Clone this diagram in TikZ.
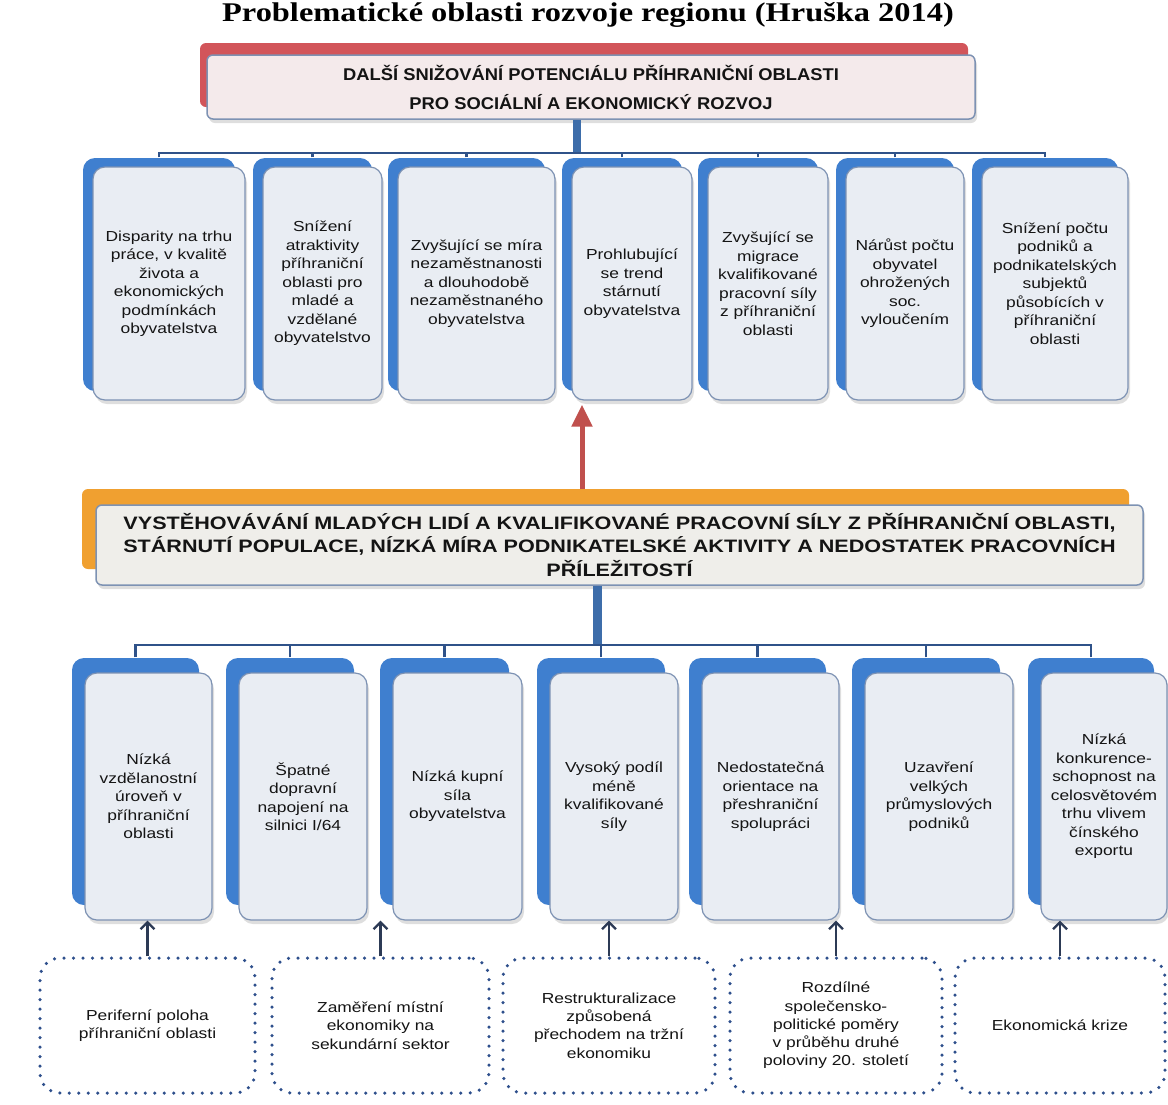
\documentclass[tikz,border=0pt]{standalone}
\usepackage{fontspec}
\setmainfont{Liberation Sans}
\newfontfamily\widesans[FakeStretch=1.2]{Liberation Sans}
\newfontfamily\headsans[FakeStretch=1.08]{Liberation Sans}
\newfontfamily\widetitle[FakeStretch=1.2]{Liberation Serif}
\usetikzlibrary{arrows.meta,shadows,calc}

\definecolor{boxblue}{HTML}{3F7FCF}
\definecolor{cardfill}{HTML}{E9EDF3}
\definecolor{rimline}{HTML}{7D92B3}
\definecolor{linkblue}{HTML}{2F5289}
\definecolor{stemblue}{HTML}{3D6DAA}
\definecolor{headred}{HTML}{D2555A}
\definecolor{headorange}{HTML}{F0A030}
\definecolor{pinkfill}{HTML}{F4EAEB}
\definecolor{greyfill}{HTML}{EFEEEA}
\definecolor{dotblue}{HTML}{2E4F8C}
\definecolor{arrowdark}{HTML}{2C3A55}
\definecolor{arrowred}{HTML}{C0504D}

\tikzset{
  softshadow/.style={general shadow={shadow xshift=2pt, shadow yshift=-4pt, fill=black, opacity=0.13}},
  card/.style={draw=rimline, line width=1.2pt, fill=cardfill, rounded corners=12pt,
    align=center, inner sep=2pt, text=black!92, softshadow,
    font=\widesans\fontsize{14.5}{18.5}\selectfont},
  topcard/.style={card, minimum height=233pt,
    copy shadow={shadow xshift=-10pt, shadow yshift=9pt, fill=boxblue, draw=none}},
  lowcard/.style={card, minimum height=247pt,
    copy shadow={shadow xshift=-13pt, shadow yshift=15pt, fill=boxblue, draw=none}},
  headbox/.style={draw=rimline, line width=1.5pt, rounded corners=6pt, align=center,
    text=black!92, softshadow},
  cause/.style={draw=dotblue, line width=3.5pt, dash pattern=on 0pt off 9.5pt, line cap=round,
    rounded corners=20pt, minimum height=135pt, align=center, text=black!92,
    font=\widesans\fontsize{14.5}{18.3}\selectfont},
  link/.style={draw=linkblue, line width=2.5pt},
  stem/.style={draw=stemblue, line width=8pt},
  uparrow/.style={draw=arrowdark, line width=2.3pt, -{Straight Barb[length=7pt,width=14pt]}},
  bigarrow/.style={draw=arrowred, line width=5pt, -{Triangle[length=22pt,width=20pt]}, shorten >=4pt}
}

\begin{document}
\begin{tikzpicture}[x=1pt,y=-1pt]
\useasboundingbox[fill=white] (0,0) rectangle (1168,1104);

\node[font=\widetitle\bfseries\fontsize{27}{30}\selectfont, anchor=base] (title) at (588,21)
  {Problematické oblasti rozvoje regionu (Hruška 2014)};

\node[headbox, fill=pinkfill, minimum width=768pt, minimum height=64pt,
  copy shadow={shadow xshift=-7pt, shadow yshift=12pt, fill=headred, draw=none},
  font=\headsans\bfseries\fontsize{17}{29}\selectfont] (h1) at (591,87)
  {DALŠÍ SNIŽOVÁNÍ POTENCIÁLU PŘÍHRANIČNÍ OBLASTI\\PRO SOCIÁLNÍ A EKONOMICKÝ ROZVOJ};

\foreach \n/\cx/\w/\txt in {
  1/169/152/{Disparity na trhu\\práce, v kvalitě\\života a\\ekonomických\\podmínkách\\obyvatelstva},
  2/322.5/119/{Snížení\\atraktivity\\příhraniční\\oblasti pro\\mladé a\\vzdělané\\obyvatelstvo},
  3/476.5/157/{Zvyšující se míra\\nezaměstnanosti\\a dlouhodobě\\nezaměstnaného\\obyvatelstva},
  4/632/120/{Prohlubující\\se trend\\stárnutí\\obyvatelstva},
  5/768/120/{Zvyšující se\\migrace\\kvalifikované\\pracovní síly\\z příhraniční\\oblasti},
  6/905/118/{Nárůst počtu\\obyvatel\\ohrožených\\soc.\\vyloučením},
  7/1055/146/{Snížení počtu\\podniků a\\podnikatelských\\subjektů\\působících v\\příhraniční\\oblasti}}
  \node[topcard, minimum width=\w pt] (t\n) at (\cx,283.5) {\txt};

\coordinate (bar1) at (577,153);
\draw[stem] (h1.south -| bar1) -- (bar1);
\foreach \i in {1,...,7}
  \draw[link] ($(t\i.north)+(-10,-9)$) |- (bar1);

\node[headbox, fill=greyfill, minimum width=1047pt, minimum height=80pt,
  copy shadow={shadow xshift=-14pt, shadow yshift=16pt, fill=headorange, draw=none},
  font=\widesans\bfseries\fontsize{18}{23.5}\selectfont] (h2) at (619.5,545)
  {VYSTĚHOVÁVÁNÍ MLADÝCH LIDÍ A KVALIFIKOVANÉ PRACOVNÍ SÍLY Z PŘÍHRANIČNÍ OBLASTI,\\
   STÁRNUTÍ POPULACE, NÍZKÁ MÍRA PODNIKATELSKÉ AKTIVITY A NEDOSTATEK PRACOVNÍCH\\
   PŘÍLEŽITOSTÍ};

\coordinate (ra) at (582,489);
\draw[bigarrow] (ra) -- (ra |- t4.south);

\foreach \n/\cx/\w/\txt in {
  1/148.5/127/{Nízká\\vzdělanostní\\úroveň v\\příhraniční\\oblasti},
  2/303/128/{Špatné\\dopravní\\napojení na\\silnici I/64},
  3/457.5/129/{Nízká kupní\\síla\\obyvatelstva},
  4/614/128/{Vysoký podíl\\méně\\kvalifikované\\síly},
  5/770.5/137/{Nedostatečná\\orientace na\\přeshraniční\\spolupráci},
  6/939/148/{Uzavření\\velkých\\průmyslových\\podniků},
  7/1104/126/{Nízká\\konkurence-\\schopnost na\\celosvětovém\\trhu vlivem\\čínského\\exportu}}
  \node[lowcard, minimum width=\w pt] (b\n) at (\cx,796.5) {\txt};

\coordinate (bar2) at (597,645);
\draw[stem, line width=9pt] (h2.south -| bar2) -- (bar2);
\foreach \i in {1,...,7}
  \draw[link] ($(b\i.north)+(-13,-15)$) |- (bar2);

\foreach \n/\cx/\w/\txt in {
  1/147.5/215/{Periferní poloha\\příhraniční oblasti},
  2/380.5/217/{Zaměření místní\\ekonomiky na\\sekundární sektor},
  3/609/212/{Restrukturalizace\\způsobená\\přechodem na tržní\\ekonomiku},
  4/836/212/{Rozdílné\\společensko-\\politické poměry\\v průběhu druhé\\poloviny 20. století},
  5/1060/210/{Ekonomická krize}}
  \node[cause, minimum width=\w pt] (d\n) at (\cx,1025.5) {\txt};

\foreach \i in {1,...,5}
  \draw[uparrow] (d\i.north) -- (d\i.north |- b1.south);

\end{tikzpicture}
\end{document}
